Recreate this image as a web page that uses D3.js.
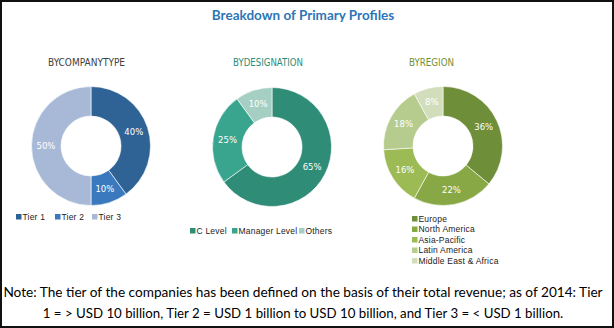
<!DOCTYPE html>
<html><head><meta charset="utf-8">
<script src="https://cdn.jsdelivr.net/npm/d3@7"></script>
<style>body{margin:0;background:#fff}svg{display:block}</style>
</head><body>
<script>
const title = "Breakdown of Primary Profiles";
const companyLabels = ["Tier 1", "Tier 2", "Tier 3"];
const companyValues = [40, 10, 50];
const designationLabels = ["C Level", "Manager Level", "Others"];
const designationValues = [65, 25, 10];
const regionLabels = ["Europe", "North America", "Asia-Pacific", "Latin America", "Middle East & Africa"];
const regionValues = [36, 22, 16, 18, 8];
const noteLines = [
  "Note: The tier of the companies has been defined on the basis of their total revenue; as of 2014: Tier",
  "1 = > USD 10 billion, Tier 2 = USD 1 billion to USD 10 billion, and Tier 3 = < USD 1 billion."
];

const W = 614, H = 328;
const svg = d3.select("body").append("svg").attr("width", W).attr("height", H);
svg.append("rect").attr("x", 1).attr("y", 1).attr("width", W - 2).attr("height", H - 2)
  .attr("fill", "#fff").attr("stroke", "#111").attr("stroke-width", 2);

svg.append("text").attr("x", 303).attr("y", 20).attr("text-anchor", "middle")
  .attr("font-family", "Lato, 'Open Sans', sans-serif").attr("font-weight", "bold")
  .attr("font-size", 13.5).attr("fill", "#2e75b6").text(title);

const charts = [
  {cx: 91, cy: 146, sub: "BYCOMPANYTYPE", subX: 48, subW: 77, subColor: "#404040",
   labels: companyLabels, values: companyValues, colors: ["#2f6396", "#3a79be", "#a8b9d8"],
   legend: "row", lx: [16, 55, 92], ly: 217},
  {cx: 272, cy: 147, sub: "BYDESIGNATION", subX: 233, subW: 70, subColor: "#2e8b76",
   labels: designationLabels, values: designationValues, colors: ["#2e8c77", "#3aa58e", "#a5cfc3"],
   legend: "row", lx: [190, 232, 299], ly: 231},
  {cx: 443, cy: 146, sub: "BYREGION", subX: 409, subW: 45, subColor: "#6f8f3a",
   labels: regionLabels, values: regionValues, colors: ["#6f8e3a", "#87a845", "#9cbb55", "#b6cc8f", "#d2ddbb"],
   legend: "col", lx: 412, ly: 219}
];

const outerR = 59.5, innerR = 30;
const arc = d3.arc().innerRadius(innerR).outerRadius(outerR);
const labelArc = d3.arc().innerRadius(45).outerRadius(45);
const pie = d3.pie().sort(null).value(d => d.v);

charts.forEach(c => {
  svg.append("text").attr("x", c.subX).attr("y", 66)
    .attr("font-family", "'DejaVu Sans Condensed', 'Liberation Sans', sans-serif")
    .attr("font-size", 10).attr("fill", c.subColor)
    .attr("textLength", c.subW).attr("lengthAdjust", "spacingAndGlyphs").text(c.sub);

  const data = c.values.map((v, i) => ({v, l: c.labels[i], col: c.colors[i]}));
  const g = svg.append("g").attr("transform", `translate(${c.cx},${c.cy})`);
  const arcs = pie(data);
  g.selectAll("path").data(arcs).join("path").attr("d", arc)
    .attr("fill", d => d.data.col).attr("stroke", "#fff").attr("stroke-width", 0.6);
  g.selectAll("text").data(arcs).join("text")
    .attr("transform", d => `translate(${labelArc.centroid(d)})`)
    .attr("text-anchor", "middle").attr("dy", "0.35em")
    .attr("font-family", "'DejaVu Sans', sans-serif").attr("font-size", 8.5)
    .attr("fill", "#fff").text(d => d.data.v + "%");

  const lg = svg.append("g");
  data.forEach((d, i) => {
    let x, y;
    if (c.legend === "row") { x = c.lx[i]; y = c.ly; }
    else { x = c.lx; y = c.ly + i * 10.5; }
    lg.append("rect").attr("x", x).attr("y", y - 3).attr("width", 5.5).attr("height", 5.5).attr("fill", d.col);
    lg.append("text").attr("x", x + 6.5).attr("y", y + 2.5)
      .attr("font-family", "'Liberation Sans', Arial, sans-serif").attr("font-size", 8.5)
      .attr("letter-spacing", 0.2).attr("fill", "#222").text(d.l);
  });
});

const nt = svg.append("g");
const targets = [{y: 297, w: 600}, {y: 318, w: 521}];
noteLines.forEach((t, i) => {
  const el = nt.append("text").attr("x", 303).attr("y", targets[i].y).attr("text-anchor", "middle")
    .attr("font-family", "Lato, 'Open Sans', sans-serif").attr("font-size", 14).attr("fill", "#000").text(t);
  const w = el.node().getComputedTextLength();
  el.attr("font-size", 14 * targets[i].w / w);
});
</script>
</body></html>
